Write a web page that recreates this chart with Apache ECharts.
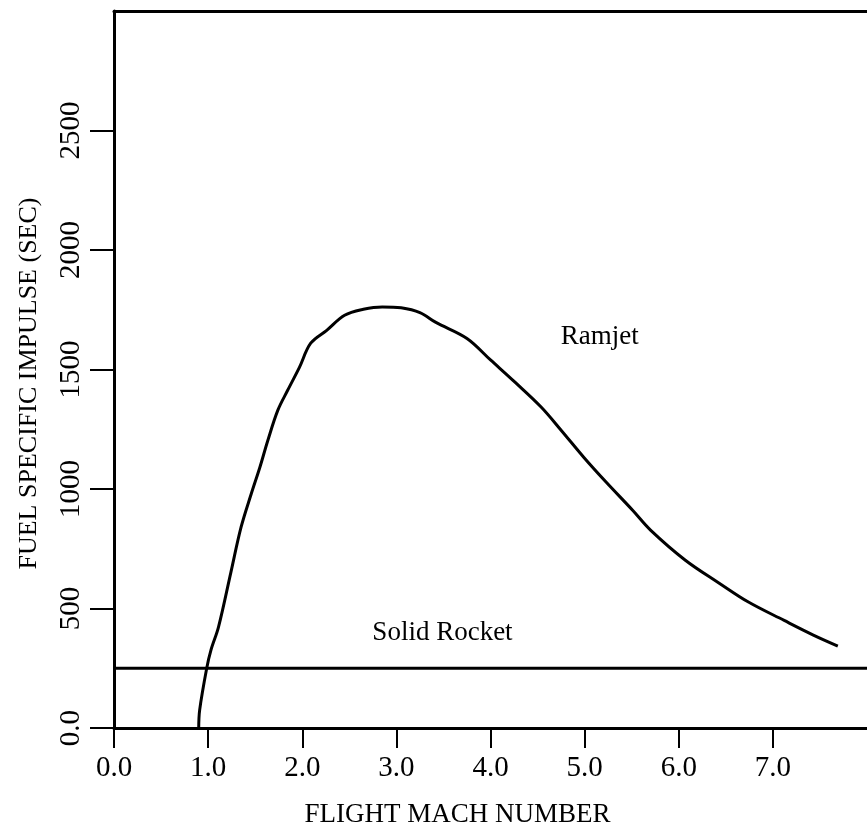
<!DOCTYPE html>
<html>
<head>
<meta charset="utf-8">
<script src="https://cdn.jsdelivr.net/npm/echarts@6/dist/echarts.min.js"></script>
<style>
  html, body { margin: 0; padding: 0; background: #fff; }
  #chart { width: 867px; height: 835px; }
</style>
</head>
<body>
<div id="chart"></div>
<script>
// Flight Mach number vs fuel specific impulse (sec)
const ramjetMach = [0.90, 0.91, 0.985, 1.03, 1.11, 1.24, 1.35, 1.46, 1.55, 1.635, 1.74, 1.845, 1.97, 2.09, 2.26, 2.45, 2.65, 2.85, 3.05, 3.25, 3.42, 3.75, 4.00, 4.26, 4.54, 4.75, 4.99, 5.23, 5.51, 5.70, 6.07, 6.43, 6.74, 7.12, 7.43, 7.69];
const ramjetIsp  = [0, 75, 250, 326, 422, 648, 840, 982, 1091, 1204, 1329, 1413, 1509, 1610, 1664, 1727, 1752, 1762, 1758, 1738, 1697, 1630, 1540, 1447, 1342, 1246, 1133, 1028, 911, 828, 702, 606, 527, 450, 389, 343];
const rocketMach = [0, 8];
const rocketIsp  = [250, 250];
const xTicks = [0, 1, 2, 3, 4, 5, 6, 7];
const yTicks = [0, 500, 1000, 1500, 2000, 2500];
const ramjetLabelAt = [5.16, 1635];
const rocketLabelAt = [3.49, 397];

const font = "'Liberation Serif', 'DejaVu Serif', serif";

const chart = echarts.init(document.getElementById('chart'));

chart.setOption({
    backgroundColor: '#fff',
    animation: false,
    grid: { left: 114, right: -10, top: 11, bottom: 107, containLabel: false },
    xAxis: [
        {
            type: 'value',
            min: 0,
            max: 8,
            interval: 1,
            name: 'FLIGHT MACH NUMBER',
            nameLocation: 'middle',
            nameGap: 73,
            nameTextStyle: { color: '#000', fontFamily: font, fontSize: 27, padding: [0, 66, 0, 0] },
            axisLine: { onZero: false, lineStyle: { color: '#000', width: 3 } },
            axisTick: { customValues: xTicks, length: 20, lineStyle: { color: '#000', width: 2 } },
            axisLabel: {
                customValues: xTicks,
                margin: 26,
                color: '#000',
                fontFamily: font,
                fontSize: 29,
                formatter: v => v.toFixed(1)
            },
            splitLine: { show: false }
        },
        {
            type: 'value',
            position: 'top',
            min: 0,
            max: 8,
            axisLine: { show: true, onZero: false, lineStyle: { color: '#000', width: 3 } },
            axisTick: { show: false },
            axisLabel: { show: false },
            splitLine: { show: false }
        }
    ],
    yAxis: {
        type: 'value',
        min: 0,
        max: 3000,
        interval: 500,
        name: 'FUEL SPECIFIC IMPULSE (SEC)',
        nameLocation: 'middle',
        nameGap: 72,
        nameTextStyle: { color: '#000', fontFamily: font, fontSize: 26, padding: [0, 0, 0, -28] },
        axisLine: { show: true, onZero: false, lineStyle: { color: '#000', width: 3 } },
        axisTick: { show: true, customValues: yTicks, length: 24, lineStyle: { color: '#000', width: 2 } },
        axisLabel: {
            customValues: yTicks,
            rotate: 90,
            margin: 28,
            color: '#000',
            fontFamily: font,
            fontSize: 29,
            formatter: v => (v === 0 ? '0.0' : String(v))
        },
        splitLine: { show: false }
    },
    series: [
        {
            name: 'Ramjet',
            type: 'line',
            data: ramjetMach.map((m, i) => [m, ramjetIsp[i]]),
            smooth: 0.35,
            symbol: 'none',
            lineStyle: { color: '#000', width: 3 },
            markPoint: {
                symbolSize: 0,
                data: [{ coord: ramjetLabelAt, value: 'Ramjet' }],
                label: { show: true, position: 'inside', formatter: 'Ramjet', color: '#000', fontFamily: font, fontSize: 27 }
            }
        },
        {
            name: 'Solid Rocket',
            type: 'line',
            data: rocketMach.map((m, i) => [m, rocketIsp[i]]),
            symbol: 'none',
            lineStyle: { color: '#000', width: 3 },
            markPoint: {
                symbolSize: 0,
                data: [{ coord: rocketLabelAt, value: 'Solid Rocket' }],
                label: { show: true, position: 'inside', formatter: 'Solid Rocket', color: '#000', fontFamily: font, fontSize: 27 }
            }
        }
    ]
});
</script>
</body>
</html>
